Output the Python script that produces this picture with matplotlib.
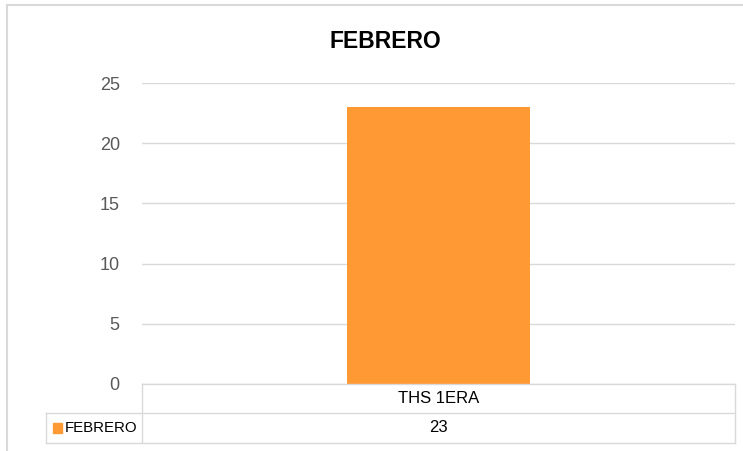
import matplotlib
matplotlib.use('Agg')
import matplotlib.pyplot as plt
from matplotlib.lines import Line2D
from matplotlib.patches import Rectangle

# ---------------------------------------------------------------------------
# Data
# ---------------------------------------------------------------------------
categories = ['THS 1ERA']
series_name = 'FEBRERO'
values = [23]
y_ticks = [0, 5, 10, 15, 20, 25]
title = 'FEBRERO'

BAR_COLOR = '#FF9933'
GRID_COLOR = '#D9D9D9'
TEXT_COLOR = '#595959'

W, H = 743, 451
plt.rcParams['font.family'] = ['Liberation Sans', 'DejaVu Sans']

fig = plt.figure(figsize=(W / 100, H / 100), dpi=100)


def fx(px):
    return px / W


def fy(py):
    return 1 - py / H


# plot area in pixel coordinates
left, right, top, bottom = 142, 735, 83, 384
ax = fig.add_axes([fx(left), fy(bottom), fx(right) - fx(left), fy(top) - fy(bottom)])
x = list(range(len(categories)))
ax.bar(x, values, width=0.31, color=BAR_COLOR, zorder=3)
ax.set_xlim(-0.5, len(categories) - 0.5)
ax.set_ylim(y_ticks[0], y_ticks[-1])
ax.set_yticks(y_ticks)
ax.set_yticklabels([str(t) for t in y_ticks], color=TEXT_COLOR, fontsize=13)
ax.tick_params(axis='y', length=0, pad=16)
ax.set_xticks([])
ax.grid(axis='y', color=GRID_COLOR, linewidth=1, zorder=0)
for s in ax.spines.values():
    s.set_visible(False)

fig.text(fx(385), fy(42), title, ha='center', va='center',
         fontsize=16.5, fontweight='bold', color='black')

# outer chart border
border = dict(color=GRID_COLOR, linewidth=1.5)
fig.add_artist(Line2D([fx(7), fx(7)], [fy(5), fy(451)], **border))
fig.add_artist(Line2D([fx(7), fx(743)], [fy(5), fy(5)], **border))

# data table
tl = dict(color=GRID_COLOR, linewidth=1)
row1, row2, row3 = 384, 413, 443
tleft = 46
fig.add_artist(Line2D([fx(left), fx(right)], [fy(row1), fy(row1)], **tl))
fig.add_artist(Line2D([fx(tleft), fx(right)], [fy(row2), fy(row2)], **tl))
fig.add_artist(Line2D([fx(tleft), fx(right)], [fy(row3), fy(row3)], **tl))
fig.add_artist(Line2D([fx(left), fx(left)], [fy(row1), fy(row3)], **tl))
fig.add_artist(Line2D([fx(right), fx(right)], [fy(row1), fy(row3)], **tl))
fig.add_artist(Line2D([fx(tleft), fx(tleft)], [fy(row2), fy(row3)], **tl))

col_w = (right - left) / len(categories)
for i, (cat, v) in enumerate(zip(categories, values)):
    cx = left + col_w * (i + 0.5)
    fig.text(fx(cx), fy((row1 + row2) / 2), cat, ha='center', va='center',
             fontsize=12, color='black')
    fig.text(fx(cx), fy((row2 + row3) / 2), str(v), ha='center', va='center',
             fontsize=12, color='black')

fig.add_artist(Rectangle((fx(53), fy(433)), fx(9), fy(423) - fy(433),
                         color=BAR_COLOR, transform=fig.transFigure))
fig.text(fx(65), fy((row2 + row3) / 2), series_name, ha='left', va='center',
         fontsize=10.8, color='black')

fig.savefig('out.png', dpi=100)
